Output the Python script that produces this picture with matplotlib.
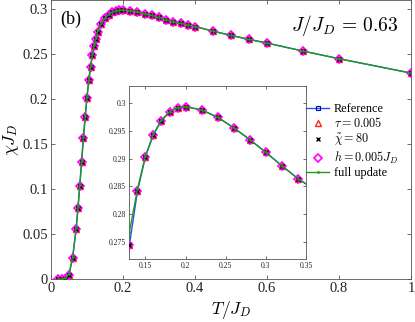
"""Susceptibility chi*J_D vs T/J_D at J/J_D = 0.63, with zoomed inset near the peak."""
import matplotlib
matplotlib.use("Agg")
import matplotlib.pyplot as plt
import numpy as np

plt.rcParams["font.family"] = ["Liberation Serif", "DejaVu Serif"]
plt.rcParams["mathtext.fontset"] = "cm"

BLUE, RED, MAG, GREEN, AX = "#2f4fe0", "#ff2020", "#ff00ff", "#1f9a1f", "#555555"

# temperature grid (T / J_D) and chi*J_D
T = [0.02, 0.03, 0.04, 0.05, 0.06, 0.07, 0.075, 0.08, 0.085, 0.09, 0.095,
     0.10, 0.105, 0.11, 0.115, 0.12, 0.125, 0.13, 0.14, 0.15, 0.16, 0.17,
     0.18, 0.19, 0.20, 0.22, 0.24, 0.26, 0.28, 0.30, 0.32, 0.34, 0.36, 0.38,
     0.40, 0.45, 0.50, 0.55, 0.60, 0.70, 0.80, 1.00]
chi_ref = [0.0, 0.0, 0.0005, 0.005, 0.023, 0.056, 0.079, 0.104, 0.130, 0.157,
           0.180, 0.202, 0.221, 0.236, 0.249, 0.259, 0.2675, 0.2745, 0.2841,
           0.2903, 0.2943, 0.2968, 0.2983, 0.2991, 0.2993, 0.2987, 0.2974,
           0.2955, 0.2934, 0.2911, 0.2887, 0.2864, 0.2845, 0.2828, 0.2810,
           0.2759, 0.2711, 0.2667, 0.2626, 0.2537, 0.2452, 0.2292]
chi_tau = chi_ref
chi_bond = chi_ref
chi_field = chi_ref
chi_full = [0.0, 0.0, 0.0008, 0.006, 0.024, 0.057, 0.080, 0.105, 0.131, 0.158,
            0.181, 0.203, 0.222, 0.237, 0.250, 0.260, 0.2685, 0.2768, 0.2845,
            0.2905, 0.2944, 0.2969, 0.2984, 0.2991, 0.2993, 0.2987, 0.2974,
            0.2955, 0.2934, 0.2911, 0.2887, 0.2864, 0.2845, 0.2828, 0.2810,
            0.2759, 0.2711, 0.2667, 0.2626, 0.2537, 0.2452, 0.2292]

LABELS = ["Reference", r"$\tau=0.005$", r"$\tilde{\chi}=80$",
          r"$h=0.005J_D$", "full update"]


def draw(ax, ms):
    h = []
    h += ax.plot(T, chi_ref, "-", color=BLUE, lw=1.0, marker="s", ms=ms * 0.7,
                 mfc="none", mec="#0000cc", mew=0.8, label=LABELS[0])
    h += ax.plot(T, chi_tau, "^", ls="none", ms=ms, mfc="none", mec=RED,
                 mew=1.0, label=LABELS[1])
    h += ax.plot(T, chi_bond, "x", ls="none", ms=ms * 0.6, color="k",
                 mew=1.0, label=LABELS[2], zorder=4)
    h += ax.plot(T, chi_field, "D", ls="none", ms=ms * 0.8, mfc="none",
                 mec=MAG, mew=1.2, label=LABELS[3], zorder=3)
    h += ax.plot(T, chi_full, "-", color=GREEN, lw=1.0, marker=".", ms=2,
                 label=LABELS[4], zorder=5)
    return h


def style(ax, size):
    for s in ax.spines.values():
        s.set_color(AX)
        s.set_linewidth(0.6)
    ax.tick_params(direction="in", top=True, right=True, length=3,
                   width=0.6, color=AX, labelsize=size, labelcolor="#222222",
                   pad=2)


fig = plt.figure(figsize=(4.15, 3.22), dpi=100)
ax = fig.add_axes([0.1229, 0.1335, 0.8675, 0.8650])
handles = draw(ax, 5.0)
style(ax, 10.5)
ax.set_xlim(0, 1)
ax.set_ylim(0, 0.31)
ax.set_xticks([0, 0.2, 0.4, 0.6, 0.8, 1])
ax.set_xticklabels(["0", "0.2", "0.4", "0.6", "0.8", "1"])
ax.set_yticks([0, 0.05, 0.1, 0.15, 0.2, 0.25, 0.3])
ax.set_yticklabels(["0", "0.05", "0.1", "0.15", "0.2", "0.25", "0.3"])
ax.set_xlabel(r"$T/J_D$", fontsize=12.5, labelpad=3)
ax.set_ylabel(r"$\chi J_D$", fontsize=12.5, labelpad=1)
ax.text(0.025, 0.965, "(b)", transform=ax.transAxes, fontsize=13,
        va="top", ha="left")
ax.text(0.965, 0.955, r"$J/J_D\,=\,0.63$", transform=ax.transAxes,
        fontsize=14, va="top", ha="right")

ins = fig.add_axes([0.3108, 0.1957, 0.4265, 0.5373])
draw(ins, 4.5)
style(ins, 5.5)
ins.set_xlim(0.1295, 0.35)
ins.set_ylim(0.272, 0.303)
ins.set_xticks([0.15, 0.2, 0.25, 0.3, 0.35])
ins.set_xticklabels(["0.15", "0.2", "0.25", "0.3", "0.35"])
ins.set_yticks([0.275, 0.28, 0.285, 0.29, 0.295, 0.3])
ins.set_yticklabels(["0.275", "0.28", "0.285", "0.29", "0.295", "0.3"])
ins.tick_params(length=2)

fig.legend(handles, LABELS, loc="upper left",
           bbox_to_anchor=(306 / 415, 1 - 103 / 322), frameon=False,
           fontsize=8.8, handlelength=1.9, handletextpad=0.35,
           handleheight=0.6, labelspacing=0.12, borderpad=0,
           borderaxespad=0, numpoints=1)

fig.savefig("out.png", dpi=100)
